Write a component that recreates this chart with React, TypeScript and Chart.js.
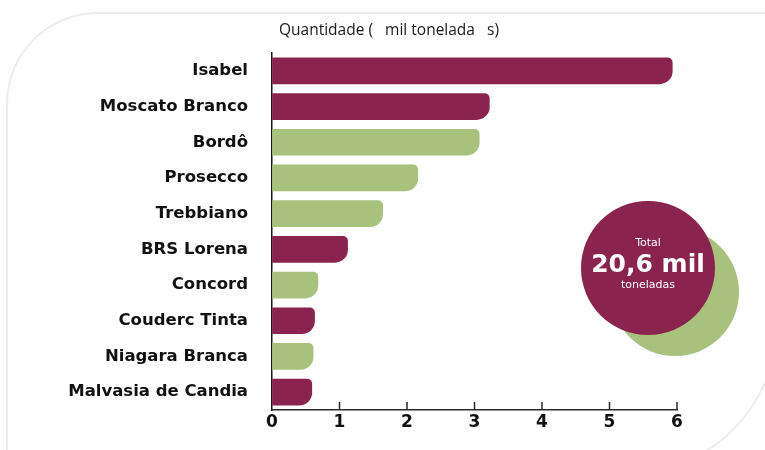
import React, { useEffect, useRef } from "react";
import { Chart, registerables } from "chart.js";

Chart.register(...registerables);

const categories = [
  "Isabel",
  "Moscato Branco",
  "Bordô",
  "Prosecco",
  "Trebbiano",
  "BRS Lorena",
  "Concord",
  "Couderc Tinta",
  "Niagara Branca",
  "Malvasia de Candia",
];
const values = [5.93, 3.22, 3.07, 2.16, 1.64, 1.12, 0.68, 0.63, 0.61, 0.59];
const colorGroups = ["purple", "purple", "green", "green", "green", "purple", "green", "purple", "green", "purple"];
const xTickValues = [0, 1, 2, 3, 4, 5, 6];
const titleText = "Quantidade (   mil tonelada   s)";
const totalLabel = "Total";
const totalValue = "20,6 mil";
const totalUnit = "toneladas";

const PURPLE = "rgb(138,36,79)";
const GREEN = "rgb(168,194,126)";

export default function App() {
  const canvasRef = useRef<HTMLCanvasElement | null>(null);

  useEffect(() => {
    document.body.style.margin = "0";
    document.body.style.overflow = "hidden";
    const canvas = canvasRef.current;
    if (!canvas) return;

    const decor = {
      id: "decor",
      afterDatasetsDraw(chart: any) {
        const ctx = chart.ctx;
        const x = chart.scales.x;
        const area = chart.chartArea;
        ctx.save();
        ctx.strokeStyle = "#2a2a2a";
        ctx.lineWidth = 1.5;
        xTickValues.forEach((v) => {
          if (v === 0) return;
          const px = x.getPixelForValue(v);
          ctx.beginPath();
          ctx.moveTo(px, area.bottom);
          ctx.lineTo(px, area.bottom - 8);
          ctx.stroke();
        });
        ctx.fillStyle = "#1a1a1a";
        ctx.font = '15.5px "Open Sans"';
        ctx.textAlign = "center";
        ctx.textBaseline = "middle";
        ctx.fillText(titleText, 389, 31);
        ctx.fillStyle = GREEN;
        ctx.beginPath();
        ctx.arc(675, 292, 64, 0, Math.PI * 2);
        ctx.fill();
        ctx.fillStyle = PURPLE;
        ctx.beginPath();
        ctx.arc(648, 268, 67, 0, Math.PI * 2);
        ctx.fill();
        ctx.fillStyle = "#ffffff";
        ctx.font = '500 11px "DejaVu Sans"';
        ctx.fillText(totalLabel, 648, 243);
        ctx.font = 'bold 25px "DejaVu Sans"';
        ctx.fillText(totalValue, 648, 265);
        ctx.font = '500 11px "DejaVu Sans"';
        ctx.fillText(totalUnit, 648, 285);
        ctx.restore();
      },
    };

    const chart = new Chart(canvas, {
      type: "bar",
      data: {
        labels: categories,
        datasets: [
          {
            data: values,
            backgroundColor: colorGroups.map((g) => (g === "purple" ? PURPLE : GREEN)),
            borderWidth: 0,
            borderSkipped: "start",
            borderRadius: { topLeft: 0, bottomLeft: 0, topRight: 5, bottomRight: 14 },
            barThickness: 26,
          },
        ],
      },
      options: {
        indexAxis: "y",
        responsive: false,
        animation: false,
        layout: { padding: { top: 53, right: 88, left: 0, bottom: 0 } },
        plugins: {
          legend: { display: false },
          tooltip: { enabled: false },
          title: { display: false },
        },
        scales: {
          x: {
            min: 0,
            max: 6,
            afterFit(scale: any) {
              scale.height = 40;
            },
            afterBuildTicks(scale: any) {
              scale.ticks = xTickValues.map((v) => ({ value: v }));
            },
            grid: { display: true, drawOnChartArea: false, drawTicks: false },
            border: { display: true, color: "#2a2a2a", width: 1.5 },
            ticks: {
              padding: 2,
              color: "#111",
              font: { family: "DejaVu Sans", weight: "bold", size: 17 },
            },
          },
          y: {
            afterFit(scale: any) {
              scale.width = 272;
            },
            grid: { display: true, drawOnChartArea: false, drawTicks: false },
            border: { display: true, color: "#1a1a1a", width: 1.5 },
            ticks: {
              padding: 24,
              color: "#111",
              font: { family: "DejaVu Sans", weight: "bold", size: 16.5 },
            },
          },
        },
      },
      plugins: [decor],
    });

    return () => chart.destroy();
  }, []);

  return (
    <div style={{ position: "relative", width: 765, height: 450, overflow: "hidden", background: "#fff" }}>
      <div
        style={{
          position: "absolute",
          left: 6,
          top: 12,
          width: 772,
          height: 462,
          border: "2px solid #ececec",
          borderRadius: "92px 0 150px 0",
          boxSizing: "border-box",
        }}
      />
      <canvas ref={canvasRef} width={765} height={450} style={{ position: "absolute", left: 0, top: 0 }} />
    </div>
  );
}
